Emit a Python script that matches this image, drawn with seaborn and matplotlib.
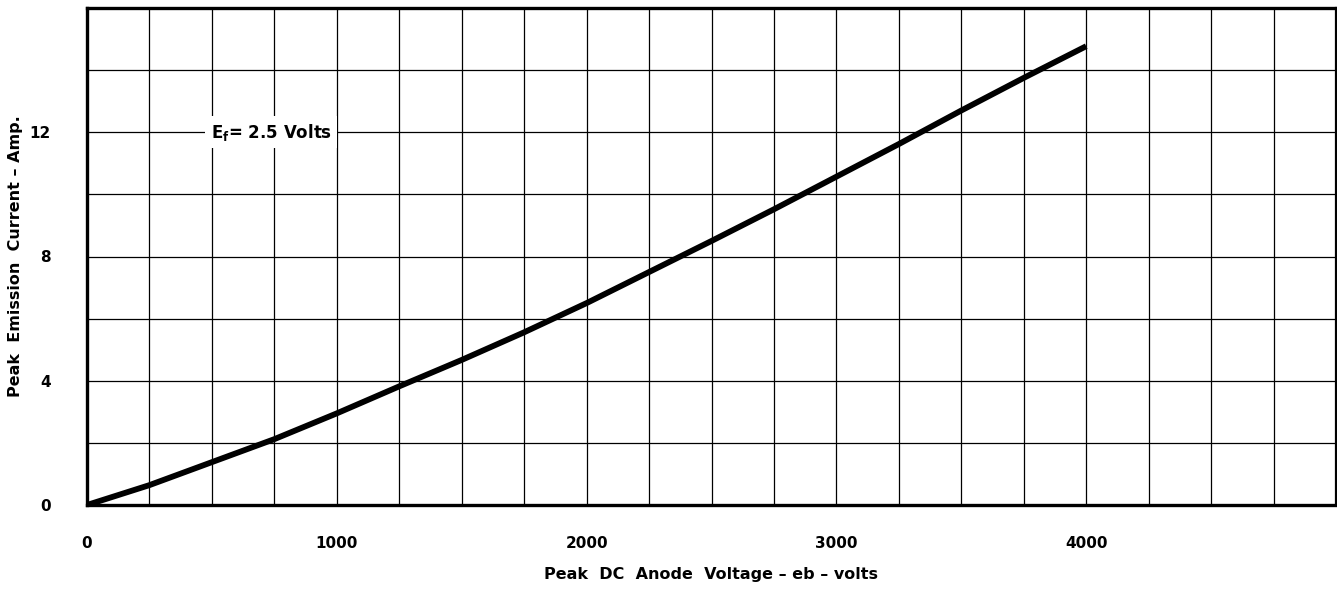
import numpy as np
import pandas as pd
import seaborn as sns
import matplotlib.pyplot as plt

# values
voltage = [0, 250, 500, 750, 1000, 1250, 1500, 1750, 2000, 2250,
           2500, 2750, 3000, 3250, 3500, 3750, 4000]
current = [0, 0.64, 1.38, 2.12, 2.95, 3.82, 4.67, 5.56, 6.5, 7.5,
           8.5, 9.52, 10.57, 11.62, 12.7, 13.75, 14.77]

x_ticks = list(range(0, 5001, 250))
y_ticks = list(range(0, 17, 2))

df = pd.DataFrame({'eb': voltage, 'amp': current})

sns.set_style('white')
plt.rcParams['font.family'] = ['DejaVu Sans']
plt.rcParams['font.weight'] = 'bold'
plt.rcParams['text.color'] = 'black'
plt.rcParams['axes.labelcolor'] = 'black'
plt.rcParams['xtick.color'] = 'black'
plt.rcParams['ytick.color'] = 'black'

fig = plt.figure(figsize=(13.37, 5.89), dpi=100)
ax = fig.add_axes([87 / 1337, 84 / 589, 1249 / 1337, 497 / 589])

sns.lineplot(data=df, x='eb', y='amp', color='black', linewidth=4.2, ax=ax,
             solid_capstyle='butt', zorder=3)

ax.set_xlim(0, 5000)
ax.set_ylim(0, 16)

ax.set_xticks(x_ticks)
ax.set_xticklabels([str(v) if (v % 1000 == 0 and v <= 4000) else '' for v in x_ticks])
ax.set_yticks(y_ticks)
ax.set_yticklabels([str(v) if (v % 4 == 0 and v <= 12) else '' for v in y_ticks])
ax.tick_params(axis='both', length=0, labelsize=11, colors='black')
ax.tick_params(axis='x', pad=22)
ax.tick_params(axis='y', pad=26)
for lab in ax.get_xticklabels() + ax.get_yticklabels():
    lab.set_fontweight('bold')

ax.grid(True, color='black', linewidth=0.9)
ax.set_axisbelow(True)

for side in ['left', 'top', 'bottom']:
    ax.spines[side].set_linewidth(2.4)
ax.spines['right'].set_linewidth(1.6)
for s in ax.spines.values():
    s.set_color('black')

ax.set_xlabel('Peak  DC  Anode  Voltage – eb – volts', fontsize=11.5,
              fontweight='bold', labelpad=12)
ax.set_ylabel('Peak  Emission  Current – Amp.', fontsize=11.5,
              fontweight='bold', labelpad=5)

ax.text(737, 12, r'E$_\mathbf{f}$= 2.5 Volts', fontsize=12, fontweight='bold',
        ha='center', va='center', zorder=4,
        bbox=dict(facecolor='white', edgecolor='none', pad=4))

fig.savefig('out.png', dpi=100)
